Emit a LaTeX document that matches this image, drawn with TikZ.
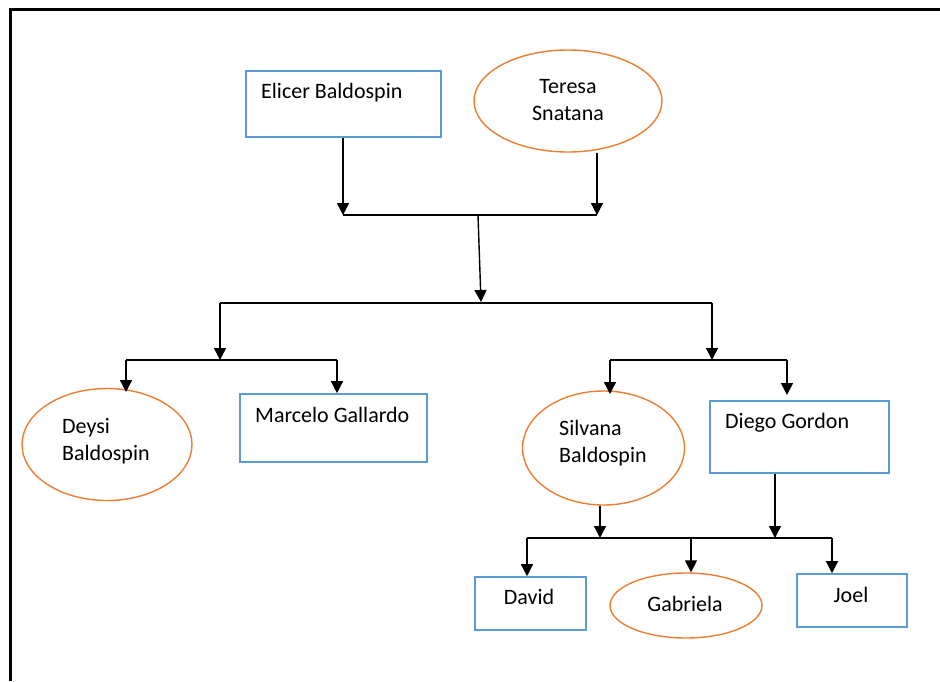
\documentclass[tikz,border=0pt]{standalone}
\usepackage{fontspec}
\setmainfont{Carlito}
\usetikzlibrary{shapes.geometric,arrows.meta}
\definecolor{boxblue}{RGB}{91,155,213}
\definecolor{ovalorange}{RGB}{237,125,49}
\begin{document}
\begin{tikzpicture}[x=1pt,y=-1pt,
  personbox/.style={draw=boxblue,line width=1.6pt,rectangle,inner sep=0pt},
  personoval/.style={draw=ovalorange,line width=1.4pt,ellipse,inner sep=0pt},
  nametext/.style={inner sep=0pt,font=\fontsize{22}{27}\selectfont,text=black},
  link/.style={draw=black,line width=1.4pt},
  arr/.style={link,-{Triangle[length=12pt,width=12pt]}}]
\useasboundingbox (0,0) rectangle (940,681);
% page frame
\draw[line width=3pt] (10,681) -- (10,9) -- (940,9);

% parents
\node[personbox,minimum width=195pt,minimum height=66pt] (elicer) at (343.5,104) {};
\node[nametext,anchor=base west] (elicer-t) at (261,98) {Elicer Baldospin};
\node[personoval,minimum width=188pt,minimum height=102pt] (teresa) at (568,101) {};
\node[nametext,anchor=base,align=center] (teresa-t) at (568,120) {Teresa\\Snatana};

% children
\node[personoval,minimum width=170pt,minimum height=112pt] (deysi) at (107,444.5) {};
\node[nametext,anchor=base west,align=left] (deysi-t) at (62,460) {Deysi\\Baldospin};
\node[personbox,minimum width=187pt,minimum height=68pt] (marcelo) at (333.5,428) {};
\node[nametext,anchor=base west] (marcelo-t) at (255,422) {Marcelo Gallardo};
\node[personoval,minimum width=162pt,minimum height=114pt] (silvana) at (603.5,448) {};
\node[nametext,anchor=base west,align=left] (silvana-t) at (559,462) {Silvana\\Baldospin};
\node[personbox,minimum width=179pt,minimum height=72pt] (diego) at (799.5,437) {};
\node[nametext,anchor=base west] (diego-t) at (725,428) {Diego Gordon};

% grandchildren
\node[personbox,minimum width=111pt,minimum height=53pt] (david) at (530.5,603.5) {};
\node[nametext,anchor=base] (david-t) at (529,604) {David};
\node[personoval,minimum width=152pt,minimum height=65pt] (gabriela) at (686,605.5) {};
\node[nametext,anchor=base] (gabriela-t) at (685,611) {Gabriela};
\node[personbox,minimum width=110pt,minimum height=53pt] (joel) at (852,600.5) {};
\node[nametext,anchor=base] (joel-t) at (851,602) {Joel};

% junction points
\coordinate (j1l) at (343,215);
\coordinate (j1r) at (597,215);
\coordinate (j1m) at (478,215);
\coordinate (j2m) at (481,302);
\coordinate (j2l) at (220,303);
\coordinate (j2r) at (712,303);
\coordinate (j3l) at (126,360);
\coordinate (j3m) at (220,360);
\coordinate (j3r) at (337,360);
\coordinate (j4l) at (610,360);
\coordinate (j4m) at (712,360);
\coordinate (j4r) at (787,360);
\coordinate (j5l) at (527,538);
\coordinate (j5a) at (600,538);
\coordinate (j5g) at (691,538);
\coordinate (j5b) at (775,538);
\coordinate (j5r) at (832,538);

% first generation
\draw[arr] (elicer.south -| j1l) -- (j1l);
\draw[arr] (teresa.south -| j1r) -- (j1r);
\draw[link] (j1l) -- (j1r);
\draw[arr] (j1m) -- (j2m);
\draw[link] (j2l) -- (j2r);

% second generation
\draw[arr] (j2l) -- (j3m);
\draw[link] (j3l) -- (j3r);
\draw[arr] (j3l) -- (j3l |- 0,392);
\draw[arr] (j3r) -- (j3r |- marcelo.north);
\draw[arr] (j2r) -- (j4m);
\draw[link] (j4l) -- (j4r);
\draw[arr] (j4l) -- (j4l |- 0,394);
\draw[arr] (j4r) -- (j4r |- 0,395);

% third generation
\draw[arr] (silvana.south -| j5a) -- (j5a);
\draw[arr] (diego.south -| j5b) -- (j5b);
\draw[link] (j5l) -- (j5r);
\draw[arr] (j5l) -- (j5l |- david.north);
\draw[arr] (j5g) -- (j5g |- gabriela.north);
\draw[arr] (j5r) -- (j5r |- joel.north);
\end{tikzpicture}
\end{document}
